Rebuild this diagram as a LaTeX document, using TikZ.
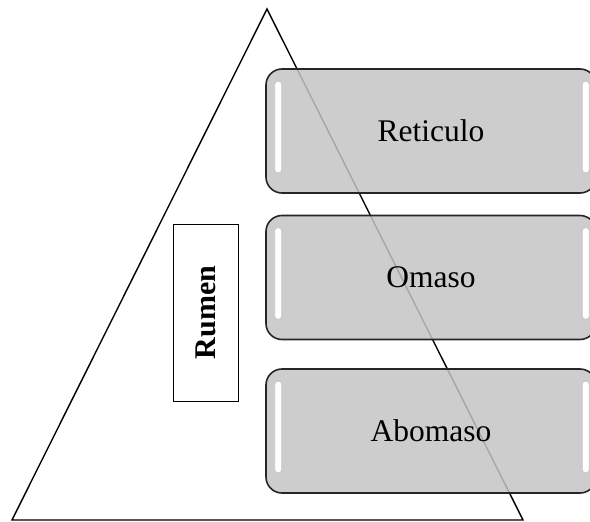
\documentclass[tikz,border=0pt]{standalone}
\usepackage{fontspec}
\setmainfont{Liberation Serif}
\usetikzlibrary{positioning,calc}

\begin{document}
\begin{tikzpicture}[
    x=1pt, y=-1pt,
    stage/.style={draw=black!85, line width=1.6pt, rounded corners=16pt, fill=black!23,
                  fill opacity=0.85, text opacity=1, minimum width=330pt, minimum height=124pt,
                  inner sep=0pt, font=\fontsize{31.5}{36}\selectfont},
    labelbox/.style={draw, line width=0.9pt, minimum width=65pt, minimum height=177pt,
                     inner sep=0pt, fill=white},
    gloss/.style={fill=white, draw=black!22, line width=0.8pt, rounded corners=3pt},
]
\useasboundingbox (0,0) rectangle (590,522);

% ── Triangle ──
\coordinate (apex) at (267,9);
\coordinate (baseL) at (12,520);
\coordinate (baseR) at (523,520);
\draw[line width=1.4pt, line join=miter] (apex) -- (baseL) -- (baseR) -- cycle;

% ── Rumen label ──
\node[labelbox] (rumen) at (205.5,312.5) {};
\node[rotate=90, font=\fontsize{30}{36}\selectfont\bfseries] (rumentxt) at (rumen.center) {Rumen};

% ── Stages ──
\node[stage] (ret) at (431,131) {Reticulo};
\node[stage] (oma) at (431,277.5) {Omaso};
\node[stage] (abo) at (431,431) {Abomaso};

% ── Gloss highlights ──
\foreach \n in {ret,oma,abo} {
  \draw[gloss] ($(\n.north west)+(9.5,13)$) rectangle ($(\n.south west)+(16.5,-21)$);
  \draw[gloss] ($(\n.north east)+(-14.5,13)$) rectangle ($(\n.south east)+(-7.5,-21)$);
}

\end{tikzpicture}
\end{document}
